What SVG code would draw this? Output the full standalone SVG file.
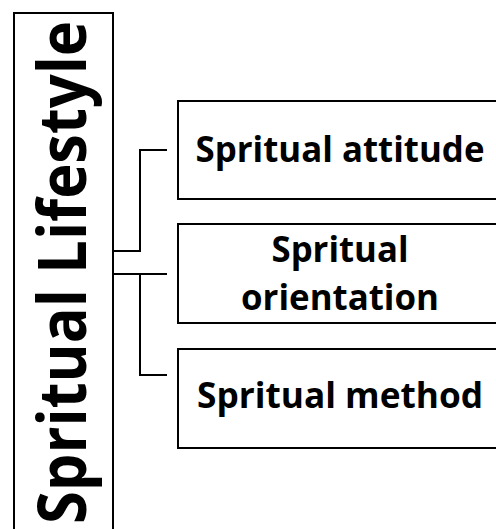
<svg xmlns="http://www.w3.org/2000/svg" width="496" height="529" viewBox="0 0 496 529">
  <style>
    .box { fill: #ffffff; stroke: #000000; stroke-width: 2; }
    .conn { fill: none; stroke: #000000; stroke-width: 2; }
    .lbl { font-family: "Open Sans", "DejaVu Sans", sans-serif; font-weight: bold; font-size: 35px; fill: #000000; text-anchor: middle; }
    .main { font-family: "Open Sans", "DejaVu Sans", sans-serif; font-weight: bold; font-size: 66px; fill: #000000; }
  </style>
  <rect x="0" y="0" width="496" height="529" fill="#ffffff"/>
  <g id="connectors">
    <polyline class="conn" points="113,251 140,251 140,150 167,150"/>
    <polyline class="conn" points="113,274 167,274"/>
    <polyline class="conn" points="140,274 140,375 167,375"/>
  </g>
  <g id="node-lifestyle">
    <rect class="box" x="14" y="13" width="99" height="530"/>
    <text class="main" transform="translate(86,524) rotate(-90)" textLength="503" lengthAdjust="spacingAndGlyphs">Spritual Lifestyle</text>
  </g>
  <g id="node-attitude">
    <rect class="box" x="178" y="101" width="324" height="98"/>
    <text class="lbl" x="340" y="162" textLength="289" lengthAdjust="spacingAndGlyphs">Spritual attitude</text>
  </g>
  <g id="node-orientation">
    <rect class="box" x="178" y="224" width="324" height="99"/>
    <text class="lbl" x="340" y="262" textLength="137" lengthAdjust="spacingAndGlyphs">Spritual</text>
    <text class="lbl" x="340" y="310" textLength="198" lengthAdjust="spacingAndGlyphs">orientation</text>
  </g>
  <g id="node-method">
    <rect class="box" x="178" y="349" width="324" height="99"/>
    <text class="lbl" x="340" y="408" textLength="286" lengthAdjust="spacingAndGlyphs">Spritual method</text>
  </g>
</svg>
